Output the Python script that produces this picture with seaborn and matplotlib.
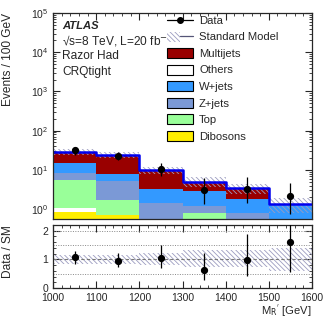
import numpy as np
import pandas as pd
import matplotlib
matplotlib.use("Agg")
import matplotlib.pyplot as plt
import seaborn as sns
from matplotlib.patches import Patch
from matplotlib.lines import Line2D
from matplotlib.legend_handler import HandlerTuple
from matplotlib.ticker import MultipleLocator, LogLocator, NullFormatter

# bins in M_R' [GeV]
bin_edges = [1000, 1100, 1200, 1300, 1400, 1500, 1600]
bin_centers = [1050, 1150, 1250, 1350, 1450, 1550]

# background yields per bin
multijets = [14.1, 16.5, 6.7, 2.04, 1.61, 0.02]
others = [0.19, 0.02, 0.05, 0.10, 0.05, 0.02]
wjets = [7.1, 2.5, 1.75, 1.74, 0.99, 0.85]
zjets = [2.6, 3.6, 1.0, 0.41, 0.33, 0.30]
top = [4.5, 1.0, 0.25, 0.48, 0.30, 0.10]
dibosons = [0.85, 0.70, 0.15, 0.20, 0.10, 0.05]

# relative SM uncertainty (up / down)
sm_unc_up = [0.15, 0.15, 0.21, 0.32, 0.32, 0.40]
sm_unc_dn = [0.16, 0.16, 0.20, 0.26, 0.28, 0.41]

# data with asymmetric errors
data = [31.4, 23.1, 10.5, 3.13, 3.3, 2.13]
data_err_lo = [6.8, 5.1, 3.5, 1.75, 1.85, 1.4]
data_err_hi = [6.4, 6.3, 4.4, 3.0, 3.1, 2.6]

# stacking order (top of stack first) and legend order
stack_order = ["Multijets", "W+jets", "Z+jets", "Top", "Others", "Dibosons"]
legend_order = ["Multijets", "Others", "W+jets", "Z+jets", "Top", "Dibosons"]
colors = {
    "Multijets": "#990000",
    "Others": "#ffffff",
    "W+jets": "#3399ff",
    "Z+jets": "#7b99d6",
    "Top": "#99ff99",
    "Dibosons": "#ffee00",
}
hatch_col = "#9c9cc0"
hatch = "\\" * 7

yields = {"Multijets": multijets, "Others": others, "W+jets": wjets,
          "Z+jets": zjets, "Top": top, "Dibosons": dibosons}
rows = []
for proc, vals in yields.items():
    for c, v in zip(bin_centers, vals):
        rows.append({"mr": c, "events": v, "process": proc})
df = pd.DataFrame(rows)

total = np.sum([np.array(v) for v in yields.values()], axis=0)
sm_hi = total * (1 + np.array(sm_unc_up))
sm_lo = total * (1 - np.array(sm_unc_dn))
data = np.array(data)
ratio = data / total

sns.set_style("ticks")
plt.rcParams["font.family"] = ["Liberation Sans", "DejaVu Sans"]
plt.rcParams["hatch.linewidth"] = 0.6
plt.rcParams["axes.linewidth"] = 0.9
fs = 7.5      # tick labels
fs_lab = 8.6  # axis titles and annotations

fig = plt.figure(figsize=(3.32, 3.19), dpi=100)
ax = fig.add_axes([53 / 332, 1 - 219.3 / 319, 259 / 332, 206.3 / 319])
axr = fig.add_axes([53 / 332, 1 - 288 / 319, 259 / 332, 63 / 319])

# --- main panel ---
ax.set_yscale("log")
sns.histplot(data=df, x="mr", weights="events", hue="process", hue_order=stack_order,
             multiple="stack", bins=bin_edges, element="bars", palette=colors,
             linewidth=0, alpha=1, legend=False, ax=ax)
ax.fill_between(bin_edges, np.append(sm_lo, sm_lo[-1]), np.append(sm_hi, sm_hi[-1]),
                step="post", facecolor="none", edgecolor=hatch_col, hatch=hatch, linewidth=0)
sns.lineplot(x=bin_edges, y=np.append(total, total[-1]), drawstyle="steps-post",
             color="#0000ee", linewidth=1.8, estimator=None, ax=ax)
ax.errorbar(bin_centers, data, yerr=[data_err_lo, data_err_hi], fmt="o", color="black",
            ms=4.2, elinewidth=0.9, capsize=0, zorder=5)

ax.set_xlim(1000, 1600)
ax.set_ylim(0.55, 1e5)
ax.set_xlabel("")
ax.set_ylabel("Events / 100 GeV", fontsize=fs_lab, loc="top")
ax.yaxis.set_label_coords(-0.15, 1.0, transform=ax.transAxes)
ax.xaxis.set_major_locator(MultipleLocator(100))
ax.xaxis.set_minor_locator(MultipleLocator(20))
ax.yaxis.set_major_locator(LogLocator(base=10, numticks=10))
ax.yaxis.set_minor_locator(LogLocator(base=10, subs=np.arange(2, 10), numticks=20))
ax.yaxis.set_minor_formatter(NullFormatter())
ax.tick_params(axis="both", which="both", direction="in", top=True, right=True, labelsize=fs)
ax.tick_params(axis="x", labelbottom=False)
ax.tick_params(which="major", length=5)
ax.tick_params(which="minor", length=2.5)

ax.text(0.035, 0.935, "ATLAS", transform=ax.transAxes, fontsize=8.1, fontweight="bold",
        fontstyle="italic", va="center")
ax.text(0.035, 0.865, "\u221as=8 TeV, L=20 fb$^{-1}$", transform=ax.transAxes,
        fontsize=fs_lab, va="center")
ax.text(0.035, 0.79, "Razor Had", transform=ax.transAxes, fontsize=fs_lab, va="center")
ax.text(0.035, 0.715, "CRQtight", transform=ax.transAxes, fontsize=fs_lab, va="center")

handles = [Line2D([], [], color="black", marker="o", ms=4, lw=0.9),
           (Patch(facecolor="white", edgecolor=hatch_col, hatch=hatch, linewidth=0),
            Line2D([], [], color="#555577", lw=0.9))]
labels = ["Data", "Standard Model"]
for proc in legend_order:
    handles.append(Patch(facecolor=colors[proc], edgecolor="black", linewidth=0.8))
    labels.append(proc)
ax.legend(handles, labels, loc="upper left", bbox_to_anchor=(0.44, 0.99), frameon=False,
          fontsize=8.1, handlelength=2.3, handleheight=1.0, labelspacing=0.5,
          borderpad=0, borderaxespad=0, handletextpad=0.55,
          handler_map={tuple: HandlerTuple(ndivide=None, pad=0)})

# --- ratio panel ---
axr.fill_between(bin_edges, np.append(1 - np.array(sm_unc_dn), 1 - sm_unc_dn[-1]),
                 np.append(1 + np.array(sm_unc_up), 1 + sm_unc_up[-1]),
                 step="post", facecolor="none", edgecolor=hatch_col, hatch=hatch, linewidth=0)
for yv in [0.5, 1.5, 2.0]:
    axr.axhline(yv, color="#888888", linestyle=(0, (1, 1.5)), linewidth=0.7)
axr.axhline(1.0, color="#777777", linestyle=(0, (3, 2)), linewidth=0.8)
axr.errorbar(bin_centers, ratio, yerr=[np.array(data_err_lo) / total, np.array(data_err_hi) / total],
             fmt="o", color="black", ms=4.2, elinewidth=0.9, capsize=0, zorder=5)
axr.set_xlim(1000, 1600)
axr.set_ylim(0, 2.2)
axr.set_ylabel("Data / SM", fontsize=fs_lab, loc="top")
axr.yaxis.set_label_coords(-0.15, 1.0, transform=axr.transAxes)
axr.set_xlabel(r"M$_{\mathrm{R}}$$^{'}$ [GeV]", fontsize=8.1, loc="right", labelpad=0)
axr.xaxis.set_major_locator(MultipleLocator(100))
axr.xaxis.set_minor_locator(MultipleLocator(20))
axr.yaxis.set_major_locator(MultipleLocator(1))
axr.yaxis.set_minor_locator(MultipleLocator(0.2))
axr.tick_params(axis="both", which="both", direction="in", top=True, right=True, labelsize=fs)
axr.tick_params(which="major", length=5)
axr.tick_params(which="minor", length=2.5)

fig.savefig("out.png", dpi=100)
